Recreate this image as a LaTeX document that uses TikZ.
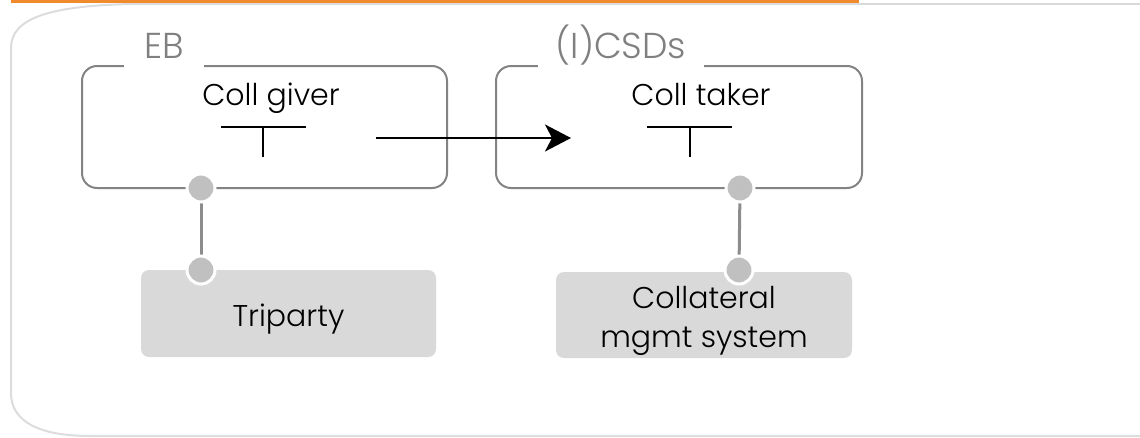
\documentclass[tikz,border=0pt]{standalone}
\usepackage{fontspec}
\setmainfont{Poppins Light}
\usetikzlibrary{arrows.meta}
\definecolor{accent}{HTML}{F08A2C}
\definecolor{rule}{HTML}{D9D9D9}
\definecolor{framegray}{HTML}{DCDCDC}
\definecolor{boxline}{HTML}{838383}
\definecolor{dotgray}{HTML}{C0C0C0}
\definecolor{linkgray}{HTML}{8C8C8C}
\definecolor{panelfill}{HTML}{D9D9D9}
\definecolor{labelgray}{HTML}{808080}
\tikzset{
  grpbox/.style={draw=boxline, line width=2pt, rounded corners=15pt, inner sep=0pt},
  grplabel/.style={fill=white, text=labelgray, inner sep=0pt, anchor=base,
    text height=30pt, text depth=14pt,
    font=\fontsize{36pt}{42pt}\selectfont},
  roletext/.style={inner sep=0pt, anchor=base, font=\fontsize{30pt}{36pt}\selectfont},
  tee/.style={line width=2pt, black},
  flow/.style={line width=2.2pt, black, -{Stealth[length=26pt, width=27pt, inset=7pt]}},
  pin/.style={circle, fill=dotgray, draw=white, line width=3pt, minimum size=28pt, inner sep=0pt},
  link/.style={draw=linkgray, line width=3pt},
  panel/.style={fill=panelfill, rounded corners=8pt, inner sep=0pt},
  paneltext/.style={inner sep=0pt, align=center, anchor=base, font=\fontsize{30pt}{39pt}\selectfont},
}
\begin{document}
\begin{tikzpicture}[x=1pt, y=-1pt]
\useasboundingbox (0,0) rectangle (1140,437);

% page frame and header rule
\draw[framegray, line width=2pt] (1140,436) -- (90,436)
  .. controls (40,436) and (11,422) .. (11,393) -- (11,48)
  .. controls (11,18) and (50,6) .. (130,4) -- (860,4);
\fill[accent] (11,0) rectangle (859,3.4);
\draw[rule, line width=1.6pt] (859,4) -- (1140,4);

% group boxes
\node[grpbox, minimum width=365pt, minimum height=122pt] (eb) at (264.5,127) {};
\node[grpbox, minimum width=366pt, minimum height=122pt] (csd) at (679,127) {};
\node[grplabel, minimum width=80pt] (eblabel) at (164,58) {EB};
\node[grplabel, minimum width=166pt] (csdlabel) at (621,58) {(I)CSDs};

% roles
\node[roletext] (giver) at (271,105) {Coll giver};
\node[roletext] (taker) at (701,105) {Coll taker};
\draw[tee] (221,127) -- (306,127) (263,127) -- (263,157);
\draw[tee] (647,127) -- (732,127) (690,127) -- (690,157);

% transfer arrow
\coordinate (from) at (376,138);
\coordinate (to) at (571,138);
\draw[flow] (from) -- (to);

% systems
\node[panel, minimum width=295pt, minimum height=87pt] (tri) at (288.5,313.5) {};
\node[panel, minimum width=296pt, minimum height=86pt] (cms) at (704,315) {};
\node[paneltext] (tritext) at (288.5,326) {Triparty};
\node[paneltext] (cmstext) at (704,347) {Collateral\\mgmt system};

% connection pins
\coordinate (p1) at (201,188);
\coordinate (p2) at (201,270);
\coordinate (p3) at (740,188);
\coordinate (p4) at (739,270);
\draw[link] (p1) -- (p2);
\draw[link] (p3) -- (p4);
\node[pin] (pin1) at (p1) {};
\node[pin] (pin2) at (p2) {};
\node[pin] (pin3) at (p3) {};
\node[pin] (pin4) at (p4) {};
\end{tikzpicture}
\end{document}
